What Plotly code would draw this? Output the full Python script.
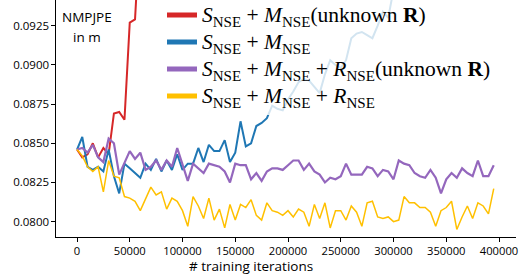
import plotly.graph_objects as go

iterations = list(range(0, 400000, 5000))

red_vals = [0.0846, 0.0841, 0.0843, 0.0850, 0.0841, 0.0847, 0.0843, 0.0869, 0.0870,
            0.0865, 0.0927, 0.0929, 0.0990]

blue_vals = [0.0846, 0.0854, 0.0835, 0.0833, 0.0835, 0.0832, 0.0846, 0.0829, 0.0818, 0.0837,
             0.0834, 0.0831, 0.0828, 0.0837, 0.0833, 0.0840, 0.0832, 0.0839, 0.0833, 0.0843,
             0.0833, 0.0837, 0.0837, 0.0847, 0.0838, 0.0849, 0.0845, 0.0845, 0.0852, 0.0838,
             0.0844, 0.0864, 0.0848, 0.0850, 0.0861, 0.0863, 0.0866, 0.0874, 0.0872, 0.0871,
             0.0878, 0.0883, 0.0889, 0.0891, 0.0890, 0.0886, 0.0882, 0.0894, 0.0903, 0.0900,
             0.0898, 0.0903, 0.0917, 0.0920, 0.0921, 0.0919, 0.0917, 0.0925, 0.0934, 0.0930,
             0.0948]

purple_vals = [0.0846, 0.0847, 0.0844, 0.0849, 0.0841, 0.0838, 0.0853, 0.0850, 0.0830, 0.0837,
               0.0845, 0.0840, 0.0844, 0.0833, 0.0835, 0.0839, 0.0833, 0.0839, 0.0835, 0.0847,
               0.0836, 0.0826, 0.0837, 0.0834, 0.0831, 0.0837, 0.0836, 0.0835, 0.0832, 0.0825,
               0.0837, 0.0836, 0.0836, 0.0827, 0.0831, 0.0826, 0.0832, 0.0834, 0.0834, 0.0833,
               0.0836, 0.0839, 0.0839, 0.0833, 0.0837, 0.0832, 0.0830, 0.0825, 0.0828, 0.0827,
               0.0829, 0.0837, 0.0830, 0.0830, 0.0830, 0.0835, 0.0834, 0.0829, 0.0833, 0.0832,
               0.0827, 0.0839, 0.0837, 0.0836, 0.0831, 0.0829, 0.0828, 0.0833, 0.0828, 0.0818,
               0.0827, 0.0831, 0.0828, 0.0834, 0.0831, 0.0829, 0.0839, 0.0829, 0.0829, 0.0836]

yellow_vals = [0.0846, 0.0842, 0.0835, 0.0832, 0.0835, 0.0819, 0.0839, 0.0829, 0.0828, 0.0816,
               0.0815, 0.0813, 0.0807, 0.0814, 0.0822, 0.0817, 0.0819, 0.0808, 0.0815, 0.0813,
               0.0807, 0.0797, 0.0816, 0.0810, 0.0802, 0.0815, 0.0801, 0.0808, 0.0796, 0.0811,
               0.0801, 0.0811, 0.0809, 0.0814, 0.0804, 0.0801, 0.0812, 0.0807, 0.0806, 0.0804,
               0.0807, 0.0803, 0.0808, 0.0806, 0.0797, 0.0811, 0.0802, 0.0812, 0.0796, 0.0807,
               0.0807, 0.0801, 0.0810, 0.0806, 0.0797, 0.0812, 0.0813, 0.0803, 0.0802, 0.0803,
               0.0800, 0.0801, 0.0816, 0.0812, 0.0812, 0.0809, 0.0809, 0.0806, 0.0797, 0.0807,
               0.0809, 0.0813, 0.0795, 0.0803, 0.0810, 0.0802, 0.0812, 0.0810, 0.0805, 0.0821]

names = [
    "<i>S</i><sub>NSE</sub> + <i>M</i><sub>NSE</sub>(unknown <b>R</b>)",
    "<i>S</i><sub>NSE</sub> + <i>M</i><sub>NSE</sub>",
    "<i>S</i><sub>NSE</sub> + <i>M</i><sub>NSE</sub> + <i>R</i><sub>NSE</sub>(unknown <b>R</b>)",
    "<i>S</i><sub>NSE</sub> + <i>M</i><sub>NSE</sub> + <i>R</i><sub>NSE</sub>",
]
colors = ["#d62728", "#1f77b4", "#9467bd", "#ffc000"]
widths = [2.0, 2.0, 2.2, 1.5]
series = [red_vals, blue_vals, purple_vals, yellow_vals]

fig = go.Figure()
for vals, c, w in zip(series, colors, widths):
    fig.add_trace(go.Scatter(x=iterations[:len(vals)], y=vals, mode="lines",
                             line=dict(color=c, width=w), showlegend=False))
for n, c in zip(names, colors):
    fig.add_trace(go.Scatter(x=[None], y=[None], mode="lines",
                             name='<span style="font-size:21.5px">' + n + '</span>',
                             line=dict(color=c, width=5), showlegend=True))

L, R, T, B = 56, 5, 0, 38
fig.update_layout(
    template="none",
    width=521, height=275,
    margin=dict(l=L, r=R, t=T, b=B, pad=0, autoexpand=False),
    paper_bgcolor="white", plot_bgcolor="white",
    font=dict(family="Open Sans", size=11.5, color="black"),
    showlegend=True,
    legend=dict(x=(162 - L) / 460, y=1.015, xanchor="left", yanchor="top",
                bgcolor="rgba(255,255,255,0.8)", borderwidth=0,
                font=dict(family="Liberation Serif", size=18.5, color="black"),
                traceorder="normal"),
)
fig.update_xaxes(range=[-19900, 416100], showgrid=False, zeroline=False, automargin=False,
                 showline=True, linecolor="black", linewidth=1.3,
                 ticks="outside", ticklen=3.5, tickwidth=1.2, tickcolor="black",
                 tickfont=dict(family="Open Sans", size=11.2, color="black"),
                 tickmode="array", tickvals=[0, 50000, 100000, 150000, 200000, 250000, 300000, 350000, 400000],
                 ticktext=["0", "50000", "100000", "150000", "200000", "250000", "300000", "350000", "400000"])
fig.update_yaxes(range=[0.07902, 0.09414], showgrid=False, zeroline=False, automargin=False,
                 showline=True, linecolor="black", linewidth=1.3,
                 ticks="outside", ticklen=3.5, tickwidth=1.2, tickcolor="black",
                 tick0=0.08, dtick=0.0025, tickformat=".4f")

fig.add_annotation(text="# training iterations", xref="paper", yref="paper",
                   x=(251 - L) / 460, y=-(266 - 237) / 237, xanchor="center", yanchor="middle",
                   showarrow=False, borderpad=0,
                   font=dict(family="Open Sans", size=13.5, color="black"))
fig.add_annotation(text="NMPJPE", xref="paper", yref="paper",
                   x=(87 - L) / 460, y=1 - 17.5 / 237, xanchor="center", yanchor="middle",
                   showarrow=False, font=dict(family="Open Sans", size=13.5, color="black"))
fig.add_annotation(text="in m", xref="paper", yref="paper",
                   x=(87 - L) / 460, y=1 - 37.5 / 237, xanchor="center", yanchor="middle",
                   showarrow=False, font=dict(family="Open Sans", size=13.5, color="black"))

fig.write_html("out.html", config={"displayModeBar": False},
               post_script="document.body.style.margin='0';")
